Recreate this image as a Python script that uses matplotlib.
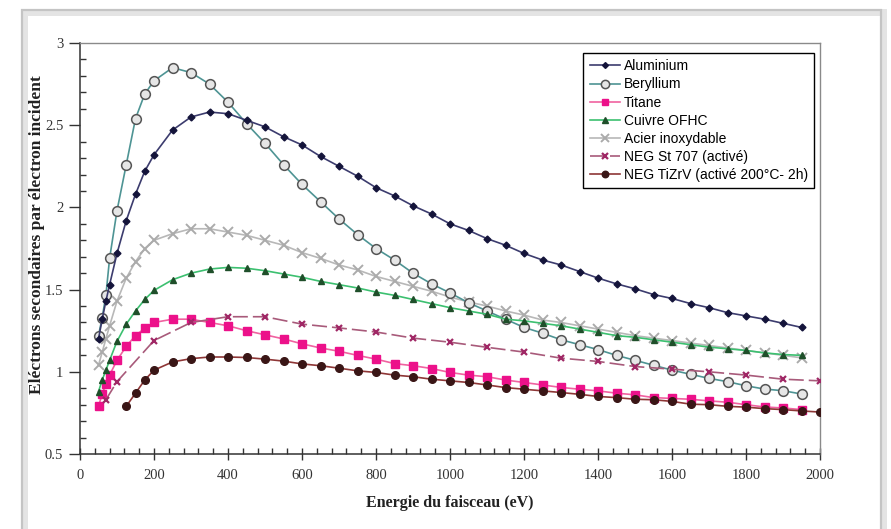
import matplotlib
matplotlib.use("Agg")
import matplotlib.pyplot as plt
from matplotlib.patches import Rectangle
from matplotlib.ticker import MultipleLocator, FixedLocator

# ---------------- data ----------------
energy_main = [50, 60, 70, 80, 100, 125, 150, 175, 200, 250, 300, 350, 400, 450, 500,
               550, 600, 650, 700, 750, 800, 850, 900, 950, 1000, 1050, 1100, 1150,
               1200, 1250, 1300, 1350, 1400, 1450, 1500, 1550, 1600, 1650, 1700, 1750,
               1800, 1850, 1900, 1950]

aluminium = [1.20, 1.32, 1.43, 1.53, 1.72, 1.92, 2.08, 2.22, 2.32, 2.47, 2.55, 2.58, 2.57,
             2.53, 2.49, 2.43, 2.38, 2.31, 2.25, 2.19, 2.12, 2.07, 2.01, 1.96, 1.90, 1.86,
             1.81, 1.77, 1.72, 1.68, 1.65, 1.61, 1.57, 1.535, 1.505, 1.47, 1.446, 1.415,
             1.39, 1.36, 1.34, 1.32, 1.295, 1.27]

beryllium = [1.22, 1.33, 1.465, 1.69, 1.98, 2.26, 2.54, 2.69, 2.77, 2.85, 2.82, 2.75, 2.64,
             2.51, 2.39, 2.26, 2.14, 2.035, 1.93, 1.835, 1.75, 1.68, 1.60, 1.535, 1.48,
             1.42, 1.37, 1.32, 1.27, 1.235, 1.195, 1.165, 1.135, 1.10, 1.07, 1.04, 1.01,
             0.985, 0.96, 0.94, 0.915, 0.895, 0.885, 0.865]

titane = [0.79, 0.865, 0.925, 0.98, 1.07, 1.155, 1.22, 1.265, 1.30, 1.32, 1.32, 1.30, 1.28,
          1.25, 1.225, 1.20, 1.17, 1.145, 1.125, 1.10, 1.077, 1.05, 1.037, 1.02, 0.996,
          0.98, 0.97, 0.95, 0.935, 0.92, 0.905, 0.894, 0.884, 0.87, 0.86, 0.843, 0.838,
          0.833, 0.823, 0.815, 0.80, 0.786, 0.78, 0.77]

cuivre = [0.88, 0.95, 1.01, 1.07, 1.185, 1.29, 1.37, 1.44, 1.495, 1.56, 1.60, 1.625, 1.635,
          1.63, 1.615, 1.595, 1.575, 1.55, 1.53, 1.51, 1.485, 1.465, 1.44, 1.415, 1.39,
          1.37, 1.35, 1.32, 1.31, 1.295, 1.28, 1.26, 1.24, 1.22, 1.21, 1.195, 1.18, 1.165,
          1.15, 1.14, 1.13, 1.115, 1.105, 1.10]

acier = [1.04, 1.12, 1.20, 1.28, 1.43, 1.57, 1.67, 1.75, 1.80, 1.84, 1.87, 1.87, 1.85,
         1.83, 1.80, 1.77, 1.725, 1.69, 1.65, 1.62, 1.58, 1.55, 1.52, 1.49, 1.455, 1.425,
         1.40, 1.37, 1.345, 1.315, 1.30, 1.28, 1.26, 1.24, 1.22, 1.205, 1.19, 1.175, 1.16,
         1.145, 1.13, 1.115, 1.10, 1.085]

energy_st707 = [70, 100, 200, 300, 400, 500, 600, 700, 800, 900, 1000, 1100, 1200, 1300,
                1400, 1500, 1600, 1700, 1800, 1900, 2000]
neg_st707 = [0.83, 0.94, 1.19, 1.30, 1.335, 1.335, 1.29, 1.267, 1.242, 1.205, 1.18, 1.149,
             1.12, 1.083, 1.063, 1.032, 1.016, 1.00, 0.98, 0.955, 0.945]

energy_tizrv = [125, 150, 175, 200, 250, 300, 350, 400, 450, 500, 550, 600, 650, 700, 750,
                800, 850, 900, 950, 1000, 1050, 1100, 1150, 1200, 1250, 1300, 1350, 1400,
                1450, 1500, 1550, 1600, 1650, 1700, 1750, 1800, 1850, 1900, 1950, 2000]
neg_tizrv = [0.79, 0.87, 0.95, 1.01, 1.06, 1.08, 1.09, 1.09, 1.087, 1.077, 1.065, 1.048,
             1.037, 1.022, 1.006, 0.996, 0.98, 0.97, 0.955, 0.945, 0.935, 0.92, 0.904,
             0.894, 0.884, 0.874, 0.863, 0.85, 0.843, 0.833, 0.83, 0.82, 0.803, 0.80,
             0.79, 0.785, 0.776, 0.77, 0.762, 0.755]

series_labels = ["Aluminium", "Beryllium", "Titane", "Cuivre OFHC", "Acier inoxydable",
                 "NEG St 707 (activé)", "NEG TiZrV (activé 200°C- 2h)"]

x_ticks = [0, 200, 400, 600, 800, 1000, 1200, 1400, 1600, 1800, 2000]
y_ticks = [0.5, 1, 1.5, 2, 2.5, 3]
y_tick_labels = ["0.5", "1", "1.5", "2", "2.5", "3"]

x_label = "Energie du faisceau (eV)"
y_label = "Eléctrons secondaires par électron incident"

# ---------------- figure ----------------
W, H = 891, 529
fig = plt.figure(figsize=(W / 100, H / 100), dpi=100)
fig.patch.set_facecolor("white")

# outer frame with soft shadow
fig.patches.append(Rectangle((24 / W, -0.05), 859 / W, 1.05 - 12 / H,
                             transform=fig.transFigure, fill=False,
                             edgecolor="#e4e4e4", lw=5, zorder=0))
fig.patches.append(Rectangle((22 / W, -0.05), 859 / W, 1.05 - 10 / H,
                             transform=fig.transFigure, fill=False,
                             edgecolor="#c4c4c4", lw=1.6, zorder=1))

left, right, top, bottom = 80, 820, 43, 454
ax = fig.add_axes([left / W, 1 - bottom / H, (right - left) / W, (bottom - top) / H])

lw = 1.2
ax.plot(energy_main, aluminium, color="#3c3c6e", lw=lw, marker="D", ms=3.5,
        mfc="#14143a", mec="#14143a", label=series_labels[0], zorder=5)
ax.plot(energy_main, beryllium, color="#4e9494", lw=lw, marker="o", ms=7,
        mfc="#e6e6e6", mec="#555555", mew=1.1, label=series_labels[1], zorder=4)
ax.plot(energy_main, titane, color="#f062a0", lw=lw, marker="s", ms=5.5,
        mfc="#ec118a", mec="#ec118a", label=series_labels[2], zorder=4)
ax.plot(energy_main, cuivre, color="#3cc070", lw=lw, marker="^", ms=5,
        mfc="#1f4f2a", mec="#1f4f2a", label=series_labels[3], zorder=4)
ax.plot(energy_main, acier, color="#b8b8b8", lw=lw, marker="x", ms=7, mew=1.4,
        mec="#ababab", label=series_labels[4], zorder=3)
ax.plot(energy_st707, neg_st707, color="#a85a7a", lw=lw, ls=(0, (9, 3)), marker="x",
        ms=5, mew=1.6, mec="#a02866", label=series_labels[5], zorder=4)
ax.plot(energy_tizrv, neg_tizrv, color="#8e3636", lw=lw, marker="o", ms=5.5,
        mfc="#3a1616", mec="#3a1616", label=series_labels[6], zorder=4)

ax.set_xlim(0, 2000)
ax.set_ylim(0.5, 3)

ax.xaxis.set_major_locator(FixedLocator(x_ticks))
ax.xaxis.set_minor_locator(MultipleLocator(40))
ax.yaxis.set_major_locator(FixedLocator(y_ticks))
ax.set_yticklabels(y_tick_labels)
ax.yaxis.set_minor_locator(MultipleLocator(0.1))

serif = ["Liberation Serif", "DejaVu Serif"]
for lab in ax.get_xticklabels() + ax.get_yticklabels():
    lab.set_family(serif)
    lab.set_fontsize(10.5)
    lab.set_color("#333333")

ax.tick_params(axis="x", which="major", direction="inout", length=8, width=1,
               color="#333333", pad=7)
ax.tick_params(axis="x", which="minor", direction="in", length=4, width=1, color="#333333")
ax.tick_params(axis="y", which="major", direction="out", length=8, width=1,
               color="#333333", pad=4)
ax.tick_params(axis="y", which="minor", direction="in", length=4, width=1, color="#333333")

for s in ("left", "bottom"):
    ax.spines[s].set_color("#333333")
    ax.spines[s].set_linewidth(1.1)
for s in ("top", "right"):
    ax.spines[s].set_color("#8a8a8a")
    ax.spines[s].set_linewidth(1.0)

ax.set_xlabel(x_label, family=serif, fontweight="bold", fontsize=11.5, color="#222222")
ax.xaxis.label.set_va("center")
ax.xaxis.set_label_coords(0.5, -(503 - bottom) / (bottom - top))
ax.set_ylabel(y_label, family=serif, fontweight="bold", fontsize=12.5, color="#222222")
ax.yaxis.label.set_va("center")
ax.yaxis.set_label_coords(-(left - 37) / (right - left), (bottom - 235) / (bottom - top))

leg = ax.legend(loc="upper right",
                bbox_to_anchor=((814 - left) / (right - left), (bottom - 53) / (bottom - top)),
                prop={"family": ["Liberation Sans", "DejaVu Sans"], "size": 10},
                frameon=True, fancybox=False, edgecolor="black", framealpha=1,
                borderpad=0.45, labelspacing=0.3, handlelength=2.2, handletextpad=0.25,
                borderaxespad=0, markerscale=0.85)
leg.get_frame().set_linewidth(1.0)

fig.savefig("out.png", dpi=100, facecolor="white")
